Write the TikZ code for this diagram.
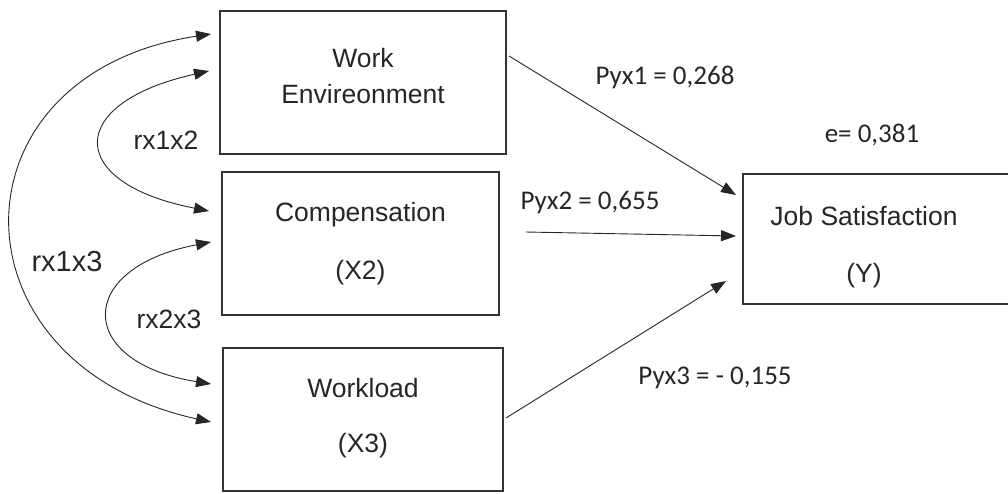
\documentclass[tikz,border=0pt]{standalone}
\usepackage{fontspec}
\setmainfont{Liberation Sans}
\newfontfamily\calib{Carlito}
\usetikzlibrary{arrows.meta}
\tikzset{
  box/.style={draw=black!80, line width=2pt, minimum height=143pt, align=center,
    font=\fontsize{26.5}{31}\selectfont, text=black!85},
  effect/.style={-{Triangle[length=15pt,width=11pt]}, line width=0.9pt, draw=black!85},
  corr/.style={{Triangle[length=15pt,width=11pt]}-{Triangle[length=15pt,width=11pt]},
    line width=0.9pt, draw=black!85},
  coef/.style={font=\calib\fontsize{27}{31}\selectfont, text=black!85},
  rlab/.style={font=\fontsize{26.5}{31}\selectfont, text=black!85}
}
\begin{document}
\begin{tikzpicture}[x=1pt,y=-1pt]
  \useasboundingbox (0,0) rectangle (1008,493);

  % Variable boxes
  \node[box, minimum width=286pt] (we) at (363,82.5) {Work\\[5pt]Envireonment\\[-18pt]\mbox{}};
  \node[box, minimum width=277pt] (comp) at (360.5,243.5) {Compensation\\[27pt](X2)};
  \node[box, minimum width=280pt] (wl) at (363,419.5) {Workload\\[24pt](X3)\\[-22pt]\mbox{}};
  \node[box, minimum width=272pt, minimum height=130pt] (js) at (879,239) {};
  \node[align=center, font=\fontsize{26.5}{31}\selectfont, text=black!85] (jstxt) at (864,247.5)
    {Job Satisfaction\\[26pt](Y)};

  % Arrow ends
  \coordinate (we-out) at ([shift={(2,46)}]we.north east);
  \coordinate (comp-out) at ([shift={(26,-11.5)}]comp.east);
  \coordinate (wl-out) at ([shift={(2,-1.5)}]wl.east);
  \coordinate (js-in1) at ([shift={(-6,22)}]js.north west);
  \coordinate (js-in2) at ([shift={(-6,63)}]js.north west);
  \coordinate (js-in3) at ([shift={(-16,-24)}]js.south west);

  \coordinate (we-a) at ([shift={(-8,24)}]we.north west);
  \coordinate (we-b) at ([shift={(-10,61)}]we.north west);
  \coordinate (comp-a) at ([shift={(-12,40)}]comp.north west);
  \coordinate (comp-b) at ([shift={(-10,71)}]comp.north west);
  \coordinate (wl-a) at ([shift={(-11,37)}]wl.north west);
  \coordinate (wl-b) at ([shift={(-11,75)}]wl.north west);

  % Paths to Y
  \draw[effect] (we-out) -- (js-in1);
  \draw[effect] (comp-out) -- (js-in2);
  \draw[effect] (wl-out) -- (js-in3);

  % Correlations
  \draw[corr] (we-b) .. controls +(-144,32) and +(-144,-28) .. (comp-a);
  \draw[corr] (comp-b) .. controls +(-136,26) and +(-136,-22) .. (wl-a);
  \draw[corr] (we-a) .. controls +(-265,40) and +(-265,-58) .. (wl-b);

  % Labels
  \node[rlab] (r12) at (166,140) {rx1x2};
  \node[rlab] (r23) at (169,319) {rx2x3};
  \node[rlab, font=\fontsize{29}{34}\selectfont] (r13) at (67,262) {rx1x3};
  \node[coef] (p1) at (665,77) {Pyx1 = 0,268};
  \node[coef] (e) at (872,135) {e= 0,381};
  \node[coef] (p2) at (590,203) {Pyx2 = 0,655};
  \node[coef] (p3) at (715,378) {Pyx3 = - 0,155};
\end{tikzpicture}
\end{document}
